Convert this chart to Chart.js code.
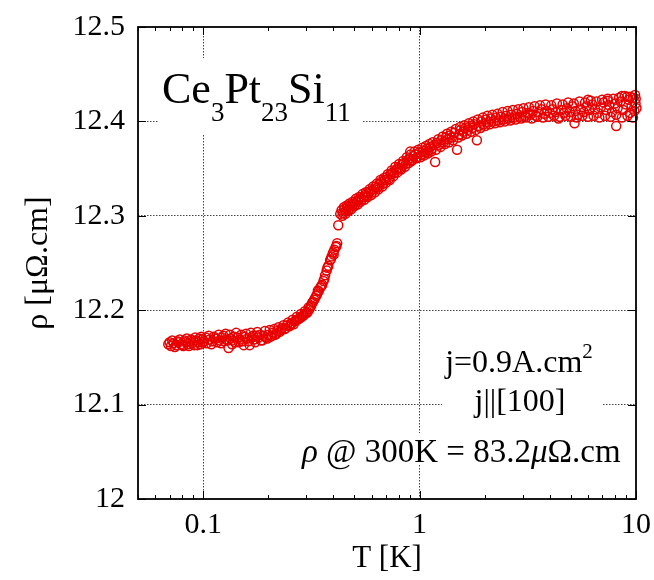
<!DOCTYPE html>
<html>
<head>
<meta charset="utf-8">
<script src="https://cdn.jsdelivr.net/npm/chart.js@4.4.1/dist/chart.umd.min.js"></script>
<style>
html, body { margin: 0; padding: 0; background: #fff; }
#wrap { width: 654px; height: 580px; }
</style>
</head>
<body>
<div id="wrap"><canvas id="rhoChart" width="654" height="580"></canvas></div>
<script>
// T [K] and rho [uOhm.cm] (two overlapping sweeps)
const temperatureA = [
  0.069, 0.071, 0.073, 0.075, 0.077, 0.079, 0.081, 0.083, 0.085, 0.087,
  0.089, 0.091, 0.093, 0.095, 0.097, 0.099, 0.101, 0.104, 0.107, 0.110,
  0.113, 0.116, 0.119, 0.122, 0.125, 0.128, 0.131, 0.134, 0.137, 0.140,
  0.144, 0.148, 0.152, 0.156, 0.160, 0.164, 0.168, 0.172, 0.176, 0.180,
  0.185, 0.190, 0.195, 0.200, 0.205, 0.210, 0.215, 0.220, 0.226, 0.232,
  0.238, 0.244, 0.250, 0.256, 0.262, 0.268, 0.274, 0.280, 0.286, 0.292,
  0.298, 0.304, 0.310,
  0.316, 0.322, 0.329, 0.336, 0.342, 0.348, 0.355, 0.360, 0.366, 0.372,
  0.379, 0.386, 0.392, 0.398, 0.404, 0.410, 0.416, 0.421, 0.430, 0.436,
  0.443, 0.450, 0.457, 0.464, 0.471, 0.479, 0.487, 0.495, 0.503, 0.512,
  0.521, 0.530, 0.540, 0.550, 0.560, 0.570, 0.581, 0.592, 0.603, 0.615,
  0.627, 0.639, 0.652, 0.665, 0.678, 0.692, 0.706, 0.720, 0.735, 0.750,
  0.765, 0.781, 0.797, 0.813, 0.830, 0.847, 0.864, 0.882, 0.900, 0.905,
  0.918, 0.937, 0.956, 0.976, 0.996,
  1.02, 1.04, 1.06, 1.08, 1.10, 1.12, 1.14, 1.17, 1.18, 1.20,
  1.23, 1.26, 1.29, 1.32, 1.35, 1.38, 1.41, 1.45, 1.49, 1.52,
  1.55, 1.59, 1.63, 1.67, 1.71, 1.75, 1.79, 1.84, 1.88, 1.93,
  1.98, 2.03, 2.08, 2.14, 2.20, 2.26, 2.32, 2.38, 2.45, 2.52,
  2.59, 2.66, 2.74, 2.82, 2.90, 2.98, 3.07, 3.16, 3.25, 3.35,
  3.45, 3.55, 3.66, 3.77, 3.88, 4.00, 4.12, 4.25, 4.38, 4.51,
  4.65, 4.79, 4.94, 5.09, 5.20, 5.24, 5.40, 5.57, 5.74, 5.91,
  6.00, 6.09, 6.28, 6.47, 6.67, 6.87, 7.08, 7.30, 7.40, 7.52,
  7.75, 7.98, 8.10, 8.22, 8.47, 8.60, 8.73, 8.99, 9.10, 9.26,
  9.40, 9.54, 9.70, 9.83, 9.90, 9.95, 10.05
];
const resistivityA = [
  12.164, 12.162, 12.165, 12.163, 12.166, 12.164, 12.162, 12.166, 12.164, 12.167,
  12.165, 12.163, 12.168, 12.166, 12.164, 12.169, 12.167, 12.165, 12.169, 12.167,
  12.170, 12.166, 12.168, 12.171, 12.167, 12.169, 12.160, 12.170, 12.168, 12.166,
  12.171, 12.169, 12.167, 12.172, 12.170, 12.163, 12.171, 12.169, 12.173, 12.171,
  12.168, 12.173, 12.171, 12.174, 12.172, 12.176, 12.174, 12.178, 12.177, 12.181,
  12.180, 12.184, 12.183, 12.186, 12.185, 12.189, 12.190, 12.192, 12.193, 12.195,
  12.197, 12.198, 12.201,
  12.205, 12.209, 12.213, 12.217, 12.220, 12.224, 12.227, 12.231, 12.237, 12.242,
  12.247, 12.253, 12.257, 12.261, 12.264, 12.267, 12.271, 12.290, 12.302, 12.306,
  12.303, 12.307, 12.305, 12.309, 12.307, 12.311, 12.310, 12.313, 12.312, 12.315,
  12.316, 12.318, 12.317, 12.320, 12.322, 12.321, 12.324, 12.326, 12.325, 12.328,
  12.331, 12.330, 12.333, 12.336, 12.334, 12.338, 12.341, 12.339, 12.344, 12.346,
  12.345, 12.349, 12.351, 12.350, 12.354, 12.356, 12.355, 12.359, 12.361, 12.368,
  12.358, 12.363, 12.365, 12.362, 12.367,
  12.365, 12.369, 12.367, 12.371, 12.369, 12.373, 12.371, 12.375, 12.357, 12.377,
  12.375, 12.380, 12.378, 12.383, 12.381, 12.385, 12.383, 12.388, 12.370, 12.386,
  12.391, 12.389, 12.393, 12.391, 12.395, 12.393, 12.397, 12.380, 12.395, 12.400,
  12.397, 12.402, 12.399, 12.403, 12.400, 12.404, 12.401, 12.405, 12.402, 12.406,
  12.403, 12.407, 12.404, 12.408, 12.405, 12.410, 12.406, 12.409, 12.407, 12.411,
  12.406, 12.410, 12.413, 12.408, 12.411, 12.409, 12.413, 12.410, 12.403, 12.412,
  12.409, 12.414, 12.410, 12.416, 12.398, 12.411, 12.407, 12.413, 12.410, 12.416,
  12.423, 12.412, 12.418, 12.413, 12.409, 12.415, 12.420, 12.412, 12.424, 12.417,
  12.410, 12.419, 12.395, 12.414, 12.421, 12.427, 12.412, 12.418, 12.426, 12.423,
  12.409, 12.416, 12.425, 12.411, 12.428, 12.419, 12.414
];
const temperatureB = [
  0.070, 0.072, 0.074, 0.076, 0.078, 0.080, 0.082, 0.084, 0.086, 0.088,
  0.090, 0.092, 0.094, 0.096, 0.098, 0.100, 0.103, 0.106, 0.109, 0.112,
  0.115, 0.118, 0.121, 0.124, 0.127, 0.130, 0.133, 0.136, 0.139, 0.142,
  0.146, 0.150, 0.154, 0.158, 0.162, 0.166, 0.170, 0.174, 0.178, 0.183,
  0.188, 0.193, 0.198, 0.203, 0.208, 0.213, 0.218, 0.223, 0.229, 0.235,
  0.241, 0.247, 0.253, 0.259, 0.265, 0.271, 0.277, 0.283, 0.289, 0.295,
  0.301, 0.307,
  0.313, 0.319, 0.326, 0.333, 0.339, 0.352, 0.363, 0.375, 0.389, 0.401, 0.413,
  0.440, 0.447, 0.454, 0.461, 0.468, 0.475, 0.483, 0.491, 0.499, 0.508,
  0.517, 0.526, 0.535, 0.545, 0.555, 0.565, 0.576, 0.587, 0.598, 0.610,
  0.622, 0.634, 0.646, 0.659, 0.672, 0.685, 0.699, 0.713, 0.728, 0.743,
  0.758, 0.773, 0.789, 0.805, 0.822, 0.839, 0.856, 0.873, 0.891, 0.909,
  0.928, 0.947, 0.966, 0.986,
  1.01, 1.03, 1.05, 1.07, 1.09, 1.11, 1.13, 1.15, 1.19, 1.22,
  1.25, 1.28, 1.31, 1.34, 1.37, 1.40, 1.43, 1.47, 1.51, 1.54,
  1.57, 1.61, 1.65, 1.69, 1.73, 1.77, 1.82, 1.86, 1.91, 1.96,
  2.01, 2.06, 2.11, 2.17, 2.23, 2.29, 2.35, 2.42, 2.48, 2.55,
  2.62, 2.70, 2.78, 2.86, 2.94, 3.02, 3.11, 3.20, 3.30, 3.40,
  3.50, 3.60, 3.71, 3.82, 3.94, 4.06, 4.18, 4.31, 4.44, 4.58,
  4.72, 4.86, 5.01, 5.16, 5.32, 5.48, 5.65, 5.82, 6.00, 6.18,
  6.37, 6.57, 6.77, 6.97, 7.19, 7.41, 7.63, 7.86, 8.10, 8.35,
  8.60, 8.86, 9.13, 9.40, 9.68, 9.97
];
const resistivityB = [
  12.166, 12.168, 12.161, 12.167, 12.169, 12.163, 12.168, 12.170, 12.162, 12.169,
  12.167, 12.171, 12.163, 12.170, 12.172, 12.166, 12.171, 12.173, 12.164, 12.172,
  12.170, 12.174, 12.165, 12.173, 12.175, 12.168, 12.174, 12.164, 12.172, 12.176,
  12.166, 12.174, 12.163, 12.175, 12.167, 12.176, 12.173, 12.166, 12.177, 12.174,
  12.168, 12.178, 12.170, 12.179, 12.173, 12.180, 12.175, 12.182, 12.179, 12.184,
  12.181, 12.187, 12.184, 12.190, 12.188, 12.193, 12.191, 12.196, 12.194, 12.199,
  12.197, 12.203,
  12.204, 12.208, 12.211, 12.215, 12.221, 12.226, 12.233, 12.245, 12.254, 12.259, 12.268,
  12.300, 12.309, 12.302, 12.311, 12.305, 12.313, 12.307, 12.315, 12.310, 12.318,
  12.312, 12.320, 12.315, 12.323, 12.317, 12.325, 12.320, 12.328, 12.322, 12.331,
  12.325, 12.334, 12.328, 12.338, 12.331, 12.340, 12.335, 12.344, 12.338, 12.348,
  12.342, 12.352, 12.346, 12.355, 12.349, 12.358, 12.352, 12.362, 12.356, 12.365,
  12.359, 12.368, 12.361, 12.370,
  12.362, 12.372, 12.364, 12.374, 12.366, 12.376, 12.368, 12.378, 12.370, 12.381,
  12.373, 12.384, 12.376, 12.387, 12.378, 12.389, 12.380, 12.392, 12.383, 12.394,
  12.385, 12.396, 12.387, 12.398, 12.389, 12.400, 12.391, 12.402, 12.393, 12.404,
  12.395, 12.406, 12.397, 12.407, 12.398, 12.408, 12.399, 12.410, 12.400, 12.411,
  12.401, 12.412, 12.402, 12.413, 12.403, 12.414, 12.404, 12.415, 12.403, 12.416,
  12.405, 12.417, 12.404, 12.418, 12.405, 12.417, 12.406, 12.419, 12.405, 12.418,
  12.406, 12.420, 12.405, 12.419, 12.404, 12.421, 12.406, 12.420, 12.405, 12.422,
  12.406, 12.421, 12.404, 12.423, 12.406, 12.422, 12.405, 12.424, 12.407, 12.425,
  12.404, 12.427, 12.406, 12.426, 12.404, 12.424
];

const xTicks = [0.05, 0.06, 0.07, 0.08, 0.09, 0.1, 0.2, 0.3, 0.4, 0.5, 0.6, 0.7, 0.8, 0.9,
  1, 2, 3, 4, 5, 6, 7, 8, 9, 10];
const xTickLabels = [0.1, 1, 10];
const yTicks = [12, 12.1, 12.2, 12.3, 12.4, 12.5];

const serif = "'Liberation Serif', 'Times New Roman', Times, 'DejaVu Serif', serif";
const red = '#e80000';

function hasLabel(v) {
  return xTickLabels.some(l => Math.abs(l - v) < 1e-9);
}

// draws a run of text pieces (sub/superscripts via dy), returns the end x
function drawRun(ctx, parts, x, y) {
  parts.forEach(p => {
    ctx.font = (p.italic ? 'italic ' : '') + p.size + 'px ' + serif;
    ctx.fillText(p.text, x, y + (p.dy || 0));
    x += ctx.measureText(p.text).width;
  });
  return x;
}
function runWidth(ctx, parts) {
  let w = 0;
  parts.forEach(p => {
    ctx.font = (p.italic ? 'italic ' : '') + p.size + 'px ' + serif;
    w += ctx.measureText(p.text).width;
  });
  return w;
}

const framePlugin = {
  id: 'frame',
  beforeDatasetsDraw(chart) {
    // white boxes behind the annotations hide the grid
    const ctx = chart.ctx;
    ctx.save();
    ctx.fillStyle = '#fff';
    ctx.fillRect(158, 58, 204, 77);
    ctx.fillRect(442, 335, 161, 90);
    ctx.fillRect(297, 433, 331, 32);
    ctx.restore();
  },
  afterDatasetsDraw(chart) {
    const { ctx, chartArea: a, scales: { x, y } } = chart;
    ctx.save();
    ctx.strokeStyle = '#000';
    ctx.lineWidth = 1;
    ctx.beginPath();
    x.ticks.forEach(t => {
      const px = Math.round(x.getPixelForValue(t.value)) + 0.5;
      const len = hasLabel(t.value) ? 8 : 4;
      ctx.moveTo(px, a.bottom); ctx.lineTo(px, a.bottom - len);
      ctx.moveTo(px, a.top); ctx.lineTo(px, a.top + len);
    });
    y.ticks.forEach(t => {
      const py = Math.round(y.getPixelForValue(t.value)) + 0.5;
      ctx.moveTo(a.left, py); ctx.lineTo(a.left + 8, py);
      ctx.moveTo(a.right, py); ctx.lineTo(a.right - 8, py);
    });
    ctx.stroke();
    ctx.lineWidth = 1.8;
    ctx.strokeRect(a.left, a.top, a.right - a.left, a.bottom - a.top);

    ctx.fillStyle = '#000';
    ctx.textBaseline = 'alphabetic';
    ctx.textAlign = 'left';
    drawRun(ctx, [
      { text: 'Ce', size: 44 }, { text: '3', size: 27, dy: 18 },
      { text: 'Pt', size: 44 }, { text: '23', size: 27, dy: 18 },
      { text: 'Si', size: 44 }, { text: '11', size: 27, dy: 18 }
    ], 162, 103);

    const j1 = [{ text: 'j=0.9A.cm', size: 32 }, { text: '2', size: 21, dy: -14 }];
    drawRun(ctx, j1, 519 - runWidth(ctx, j1) / 2, 372);
    const j2 = [{ text: 'j||[100]', size: 32 }];
    drawRun(ctx, j2, 520 - runWidth(ctx, j2) / 2, 411);

    drawRun(ctx, [
      { text: 'ρ', size: 33, italic: true },
      { text: ' @ 300K = 83.2', size: 33 },
      { text: 'μ', size: 33, italic: true },
      { text: 'Ω.cm', size: 33 }
    ], 302, 462);
    ctx.restore();
  }
};

function sweep(label, ts, rs) {
  return {
    label: label,
    data: ts.map((t, i) => ({ x: t, y: rs[i] })),
    pointStyle: 'circle',
    pointRadius: 4.5,
    pointBorderWidth: 1.5,
    pointBorderColor: red,
    pointBackgroundColor: 'rgba(255,255,255,0)',
    showLine: false,
    clip: 6
  };
}

new Chart(document.getElementById('rhoChart'), {
  type: 'scatter',
  data: {
    datasets: [
      sweep('sweep A', temperatureA, resistivityA),
      sweep('sweep B', temperatureB, resistivityB)
    ]
  },
  options: {
    responsive: false,
    animation: false,
    devicePixelRatio: 1,
    layout: { padding: { left: 0, right: 18, top: 27, bottom: 0 } },
    plugins: { legend: { display: false }, tooltip: { enabled: false } },
    scales: {
      x: {
        type: 'logarithmic',
        min: 0.05,
        max: 10,
        afterBuildTicks: s => { s.ticks = xTicks.map(v => ({ value: v })); },
        grid: {
          color: c => (c.tick && hasLabel(c.tick.value) && c.tick.value < 9) ? '#444' : 'rgba(0,0,0,0)',
          drawTicks: false,
          lineWidth: 1
        },
        border: { display: false, dash: [1.5, 1.5] },
        ticks: {
          autoSkip: false,
          maxRotation: 0,
          padding: 8,
          color: '#000',
          font: { family: serif, size: 30 },
          callback: v => hasLabel(v) ? String(v) : ''
        },
        title: {
          display: true,
          text: 'T [K]',
          color: '#000',
          font: { family: serif, size: 31 },
          padding: { top: 0, bottom: 3 }
        },
        afterFit: s => { s.height = 81; s.paddingLeft = 0; s.paddingRight = 0; }
      },
      y: {
        min: 12,
        max: 12.5,
        afterBuildTicks: s => { s.ticks = yTicks.map(v => ({ value: v })); },
        grid: {
          color: c => (c.tick && c.tick.value > 12.05 && c.tick.value < 12.45) ? '#444' : 'rgba(0,0,0,0)',
          drawTicks: false,
          lineWidth: 1
        },
        border: { display: false, dash: [1.5, 1.5] },
        ticks: {
          padding: 13,
          color: '#000',
          font: { family: serif, size: 30 },
          callback: v => String(v)
        },
        title: {
          display: true,
          text: 'ρ [μΩ.cm]',
          color: '#000',
          font: { family: serif, size: 32 },
          padding: { top: 19, bottom: 0 }
        },
        afterFit: s => { s.width = 138; s.paddingTop = 0; s.paddingBottom = 0; }
      }
    }
  },
  plugins: [framePlugin]
});
</script>
</body>
</html>
